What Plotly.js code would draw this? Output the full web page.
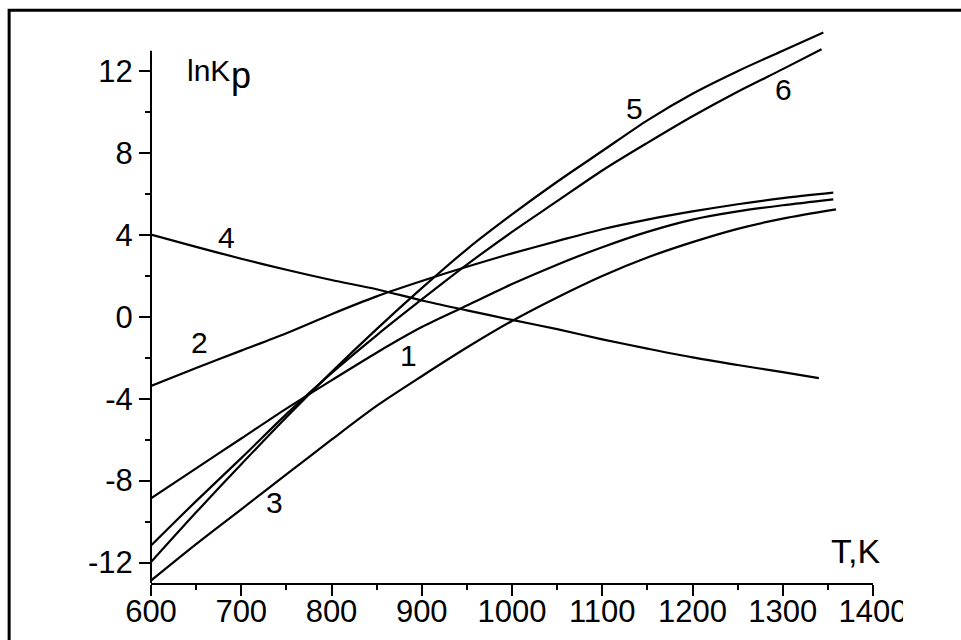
<!DOCTYPE html>
<html>
<head>
<meta charset="utf-8">
<script src="https://cdn.plot.ly/plotly-3.0.1.min.js"></script>
<style>
html,body{margin:0;padding:0;background:#fff;}
#chart{width:961px;height:640px;}
</style>
</head>
<body>
<div id="chart"></div>
<script>
// Temperature grids (K) and ln Kp values per curve
const T1 = [600, 650, 700, 750, 800, 850, 900, 950, 1000, 1050, 1100, 1150, 1200, 1250, 1300, 1356];
const lnK1 = [-8.86, -7.4, -5.94, -4.48, -3.1, -1.75, -0.5, 0.55, 1.6, 2.55, 3.4, 4.15, 4.75, 5.15, 5.45, 5.74];

const T2 = [600, 650, 700, 750, 800, 850, 900, 950, 1000, 1050, 1100, 1150, 1200, 1250, 1300, 1356];
const lnK2 = [-3.38, -2.5, -1.65, -0.8, 0.13, 1.0, 1.75, 2.45, 3.1, 3.7, 4.28, 4.75, 5.15, 5.5, 5.8, 6.07];

const T3 = [600, 650, 700, 750, 800, 850, 900, 950, 1000, 1050, 1100, 1150, 1200, 1250, 1300, 1359];
const lnK3 = [-12.88, -11.1, -9.4, -7.7, -6.0, -4.35, -2.9, -1.5, -0.2, 0.95, 2.0, 2.9, 3.65, 4.3, 4.8, 5.25];

const T4 = [600, 650, 700, 750, 800, 850, 900, 950, 1000, 1050, 1100, 1150, 1200, 1250, 1300, 1340];
const lnK4 = [4.02, 3.42, 2.84, 2.3, 1.8, 1.35, 0.8, 0.32, -0.15, -0.6, -1.1, -1.55, -1.98, -2.35, -2.7, -2.99];

const T5 = [600, 650, 700, 750, 800, 850, 900, 950, 1000, 1050, 1100, 1150, 1200, 1250, 1300, 1345];
const lnK5 = [-11.98, -9.55, -7.2, -4.9, -2.7, -0.6, 1.4, 3.3, 5.0, 6.6, 8.1, 9.6, 10.9, 12.0, 13.0, 13.89];

const T6 = [600, 650, 700, 750, 800, 850, 900, 950, 1000, 1050, 1100, 1150, 1200, 1250, 1300, 1343];
const lnK6 = [-11.17, -9.0, -6.9, -4.75, -2.75, -0.9, 0.85, 2.55, 4.15, 5.65, 7.15, 8.5, 9.8, 11.0, 12.1, 13.07];

const curveNames = ["1", "2", "3", "4", "5", "6"];
const xTickVals = [600, 700, 800, 900, 1000, 1100, 1200, 1300, 1400];
const xTickText = ["600", "700", "800", "900", "1000", "1100", "1200", "1300", "1400"];
const xMinorVals = [650, 750, 850, 950, 1050, 1150, 1250, 1350];
const yTickVals = [-12, -8, -4, 0, 4, 8, 12];
const yTickText = ["-12", "-8", "-4", "0", "4", "8", "12"];
const yMinorVals = [-10, -6, -2, 2, 6, 10];
const yAxisSpan = [-13, 13];

// label anchor positions (data units) for the curve numbers
const labelT = [885, 654, 737, 684, 1136, 1301];
const labelV = [-1.9, -1.25, -9.05, 3.9, 10.2, 11.1];

const FONT = "Liberation Sans, Arial, sans-serif";
const series = [[T1, lnK1], [T2, lnK2], [T3, lnK3], [T4, lnK4], [T5, lnK5], [T6, lnK6]];

const traces = series.map((s, i) => ({
  x: s[0], y: s[1], type: "scatter", mode: "lines",
  name: curveNames[i],
  line: {color: "#000", width: 2.2, shape: "spline", smoothing: 0.8},
  hoverinfo: "skip", showlegend: false
}));

const annotations = curveNames.map((n, i) => ({
  x: labelT[i], y: labelV[i], xref: "x", yref: "y",
  text: n, showarrow: false,
  font: {family: FONT, size: 30, color: "#000"}
}));
annotations.push({
  x: 637.7, y: 12.04, xref: "x", yref: "y", xanchor: "left", yanchor: "middle",
  text: "lnK", showarrow: false,
  font: {family: FONT, size: 30, color: "#000"}
});
annotations.push({
  x: 699.7, y: 11.8, xref: "x", yref: "y", xanchor: "center", yanchor: "middle",
  text: "p", showarrow: false,
  font: {family: FONT, size: 36, color: "#000"}
});
annotations.push({
  x: 1381, y: -11.45, xref: "x", yref: "y",
  text: "T,K", showarrow: false,
  font: {family: FONT, size: 34, color: "#000"}
});

const layout = {
  width: 961, height: 640,
  margin: {l: 151, r: 88, t: 20, b: 57, pad: 0},
  paper_bgcolor: "#fff", plot_bgcolor: "#fff",
  showlegend: false,
  xaxis: {
    range: [600, 1400], showgrid: false, zeroline: false,
    showline: true, linecolor: "#000", linewidth: 2, mirror: false,
    ticks: "outside", ticklen: 11, tickwidth: 2, tickcolor: "#000",
    tickmode: "array", tickvals: xTickVals, ticktext: xTickText,
    ticklabelstandoff: -11,
    tickfont: {family: FONT, size: 31, color: "#000"},
    minor: {tickmode: "array", tickvals: xMinorVals, ticks: "outside", ticklen: 5, tickwidth: 2, tickcolor: "#000", showgrid: false},
    fixedrange: true
  },
  yaxis: {
    range: [-13, 14.5], showgrid: false, zeroline: false,
    showline: false,
    ticks: "outside", ticklen: 11, tickwidth: 2, tickcolor: "#000",
    tickmode: "array", tickvals: yTickVals, ticktext: yTickText,
    tickfont: {family: FONT, size: 31, color: "#000"},
    minor: {tickmode: "array", tickvals: yMinorVals, ticks: "outside", ticklen: 5, tickwidth: 2, tickcolor: "#000", showgrid: false},
    fixedrange: true
  },
  annotations: annotations,
  shapes: [
    // y axis line spanning only the labelled range
    {type: "line", xref: "paper", yref: "y", layer: "above",
     x0: 0, x1: 0, y0: yAxisSpan[0], y1: yAxisSpan[1],
     line: {color: "#000", width: 2}},
    // right-hand crop of the last tick label, as in the source figure
    {type: "rect", xref: "paper", yref: "paper", layer: "above",
     x0: 1.0416, x1: 1.3, y0: -0.0137, y1: -0.3,
     fillcolor: "#fff", line: {width: 0}},
    // outer frame
    {type: "rect", xref: "paper", yref: "paper", layer: "above",
     x0: -0.1965, x1: 1.2, y0: -0.2, y1: 1.0175,
     fillcolor: "rgba(0,0,0,0)", line: {color: "#000", width: 3}}
  ]
};

Plotly.newPlot("chart", traces, layout, {staticPlot: true, displayModeBar: false});
</script>
</body>
</html>
